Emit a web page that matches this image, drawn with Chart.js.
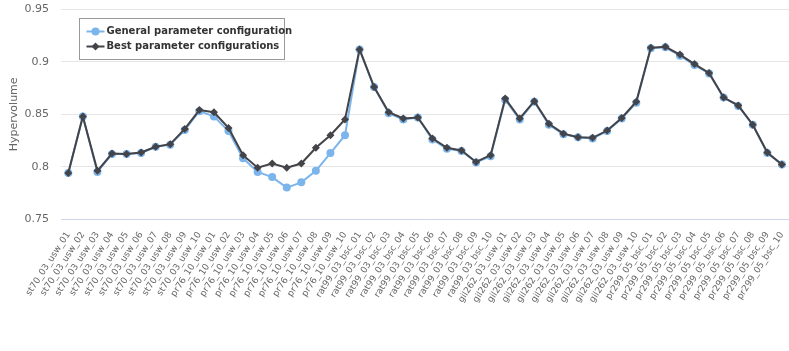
<!DOCTYPE html>
<html>
<head>
<meta charset="utf-8">
<script src="https://cdn.jsdelivr.net/npm/chart.js@4.4.1/dist/chart.umd.min.js"></script>
<style>
    html, body { margin: 0; padding: 0; background: #ffffff; }
    #wrap { position: relative; width: 789px; height: 351px; overflow: hidden; }
    #inner { position: absolute; left: 0; top: -9px; width: 802px; height: 360px; }
</style>
</head>
<body>
<div id="wrap"><div id="inner"><canvas id="chart"></canvas></div></div>
<script>
// instances on the x axis
const instances = [
    "st70_03_usw_01", "st70_03_usw_02", "st70_03_usw_03", "st70_03_usw_04", "st70_03_usw_05",
    "st70_03_usw_06", "st70_03_usw_07", "st70_03_usw_08", "st70_03_usw_09", "st70_03_usw_10",
    "pr76_10_usw_01", "pr76_10_usw_02", "pr76_10_usw_03", "pr76_10_usw_04", "pr76_10_usw_05",
    "pr76_10_usw_06", "pr76_10_usw_07", "pr76_10_usw_08", "pr76_10_usw_09", "pr76_10_usw_10",
    "rat99_03_bsc_01", "rat99_03_bsc_02", "rat99_03_bsc_03", "rat99_03_bsc_04", "rat99_03_bsc_05",
    "rat99_03_bsc_06", "rat99_03_bsc_07", "rat99_03_bsc_08", "rat99_03_bsc_09", "rat99_03_bsc_10",
    "gil262_03_usw_01", "gil262_03_usw_02", "gil262_03_usw_03", "gil262_03_usw_04", "gil262_03_usw_05",
    "gil262_03_usw_06", "gil262_03_usw_07", "gil262_03_usw_08", "gil262_03_usw_09", "gil262_03_usw_10",
    "pr299_05_bsc_01", "pr299_05_bsc_02", "pr299_05_bsc_03", "pr299_05_bsc_04", "pr299_05_bsc_05",
    "pr299_05_bsc_06", "pr299_05_bsc_07", "pr299_05_bsc_08", "pr299_05_bsc_09", "pr299_05_bsc_10"
];

const general_hv = [
    0.794, 0.848, 0.795, 0.812, 0.812, 0.813, 0.819, 0.821, 0.835, 0.853,
    0.848, 0.834, 0.808, 0.795, 0.790, 0.780, 0.785, 0.796, 0.813, 0.830,
    0.912, 0.876, 0.851, 0.845, 0.847, 0.826, 0.817, 0.815, 0.804, 0.810,
    0.864, 0.845, 0.862, 0.840, 0.831, 0.828, 0.827, 0.834, 0.846, 0.861,
    0.913, 0.914, 0.906, 0.897, 0.889, 0.866, 0.858, 0.840, 0.813, 0.802
];

const best_hv = [
    0.794, 0.848, 0.796, 0.8125, 0.812, 0.8135, 0.819, 0.8215, 0.836, 0.854,
    0.852, 0.837, 0.811, 0.799, 0.803, 0.799, 0.803, 0.818, 0.830, 0.845,
    0.912, 0.876, 0.852, 0.846, 0.847, 0.827, 0.818, 0.8155, 0.8045, 0.811,
    0.865, 0.846, 0.8625, 0.841, 0.8315, 0.828, 0.8275, 0.8345, 0.8465, 0.862,
    0.9135, 0.9145, 0.907, 0.898, 0.8895, 0.866, 0.8585, 0.840, 0.8135, 0.802
];

const y_ticks = [0.75, 0.8, 0.85, 0.9, 0.95];

const label_font = "'DejaVu Sans', Verdana, sans-serif";

// legend drawn as a framed box inside the plot area
const box_legend = {
    id: 'boxLegend',
    afterDraw(chart) {
        const ctx = chart.ctx;
        const area = chart.chartArea;
        const x0 = Math.round(area.left + 18) + 0.5;
        const y0 = Math.round(area.top + 8) + 0.5;
        const w = 205;
        const h = 41;
        ctx.save();
        ctx.fillStyle = '#ffffff';
        ctx.fillRect(x0, y0, w, h);
        ctx.strokeStyle = '#999999';
        ctx.lineWidth = 1;
        ctx.strokeRect(x0, y0, w, h);

        const sets = chart.data.datasets;
        for (let i = 0; i < sets.length; i++) {
            const ds = sets[i];
            const cy = y0 + 13 + i * 15;
            ctx.strokeStyle = ds.borderColor;
            ctx.lineWidth = 2;
            ctx.beginPath();
            ctx.moveTo(x0 + 7, cy);
            ctx.lineTo(x0 + 25, cy);
            ctx.stroke();
            ctx.fillStyle = ds.borderColor;
            ctx.beginPath();
            if (ds.pointStyle === 'rectRot') {
                ctx.moveTo(x0 + 16, cy - 4);
                ctx.lineTo(x0 + 20, cy);
                ctx.lineTo(x0 + 16, cy + 4);
                ctx.lineTo(x0 + 12, cy);
                ctx.closePath();
            } else {
                ctx.arc(x0 + 16, cy, 4, 0, Math.PI * 2);
            }
            ctx.fill();
            ctx.fillStyle = '#333333';
            ctx.font = "bold 10px " + label_font;
            ctx.textBaseline = 'middle';
            ctx.textAlign = 'left';
            ctx.fillText(ds.label, x0 + 27, cy);
        }
        ctx.restore();
    }
};

const chart_data = {
    labels: instances,
    datasets: [
        {
            label: "General parameter configuration",
            data: general_hv,
            borderColor: "#7cb5ec",
            backgroundColor: "#7cb5ec",
            borderWidth: 2,
            pointStyle: 'circle',
            pointRadius: 4,
            pointBorderWidth: 0,
            tension: 0,
            order: 2
        },
        {
            label: "Best parameter configurations",
            data: best_hv,
            borderColor: "#434348",
            backgroundColor: "#434348",
            borderWidth: 2,
            pointStyle: 'rectRot',
            pointRadius: 4,
            pointBorderWidth: 0,
            tension: 0,
            order: 1
        }
    ]
};

const option = {
    responsive: true,
    maintainAspectRatio: false,
    animation: false,
    layout: { padding: { top: 0, right: 0, left: 0, bottom: 0 } },
    plugins: {
        legend: { display: false },
        tooltip: { enabled: false }
    },
    scales: {
        x: {
            offset: true,
            grid: { display: false, drawTicks: false },
            border: { color: '#ccd6eb', width: 1 },
            ticks: {
                autoSkip: false,
                minRotation: 57,
                maxRotation: 57,
                padding: 11,
                color: '#666666',
                font: { family: label_font, size: 9 }
            },
            afterFit(scale) { scale.height = 132; }
        },
        y: {
            min: 0.75,
            max: 0.95,
            afterBuildTicks(scale) {
                scale.ticks = y_ticks.map(v => ({ value: v }));
            },
            grid: { color: '#e6e6e6', drawTicks: false },
            border: { display: false },
            ticks: {
                padding: 12,
                color: '#666666',
                font: { family: label_font, size: 11 },
                callback: v => String(parseFloat(v.toFixed(2)))
            },
            title: {
                display: true,
                text: 'Hypervolume',
                color: '#666666',
                font: { family: label_font, size: 11 },
                padding: { top: 8, bottom: 0 }
            },
            afterFit(scale) { scale.width = 61; }
        }
    }
};

const line_chart = new Chart(document.getElementById('chart').getContext('2d'), {
    type: 'line',
    data: chart_data,
    options: option,
    plugins: [box_legend]
});
</script>
</body>
</html>
